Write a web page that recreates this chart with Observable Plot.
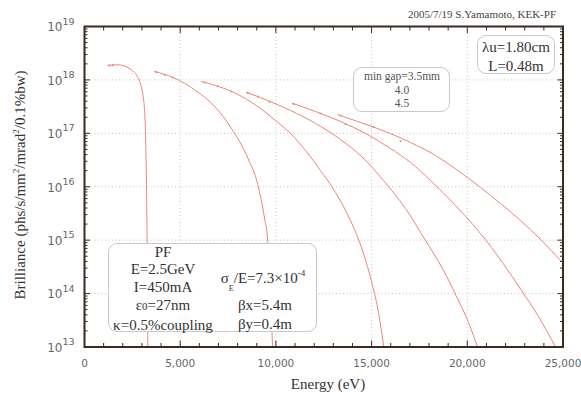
<!DOCTYPE html>
<html><head><meta charset="utf-8">
<script src="https://cdn.jsdelivr.net/npm/d3@7"></script>
<script src="https://cdn.jsdelivr.net/npm/@observablehq/plot@0.6"></script>
<style>
body{margin:0;background:#fff;}
#wrap{position:relative;width:581px;height:398px;font-family:"Liberation Serif","Times New Roman",serif;color:#333;overflow:hidden;}
.box{position:absolute;border:1px solid #c9c9c9;border-radius:9px;background:#fff;box-sizing:border-box;}
.t{position:absolute;transform:translate(-50%,-50%);white-space:nowrap;line-height:1;}
</style></head><body><div id="wrap"></div>
<script>
// Harmonic tuning curves (energy in eV, brilliance)
const harmonics = ["1st","3rd","5th","7th","9th","11th"];
const h1Energy = [1217,1740,2440,2873,3098,3187,3239,3276,3307];
const h1Brill  = [1.87e18,1.92e18,1.55e18,9.4e17,3.96e17,9.6e16,1.1e16,6.2e14,1e13];
const h3Energy = [3657,4702,5747,6792,7665,8532,9054,9404,9577,9718,9822];
const h3Brill  = [1.44e18,1.08e18,6.56e17,3.2e17,1.26e17,3.45e16,1.1e16,2.6e15,9.6e14,1.1e14,1e13];
const h5Energy = [6097,6844,7628,8412,9195,9979,10763,11546,12330,13114,13898,14525,15047,15361,15637];
const h5Brill  = [9.33e17,7.87e17,6.21e17,4.49e17,2.92e17,1.74e17,9.93e16,4.78e16,2.01e16,7.82e15,2.33e15,6.41e14,1.42e14,4.43e13,1e13];
const h7Energy = [8448,9561,10763,12069,13375,14525,15622,16771,17816,18704,19488,20063,20533];
const h7Brill  = [5.89e17,4.12e17,2.68e17,1.53e17,7.67e16,3.53e16,1.31e16,3.92e15,9.86e14,2.95e14,8.09e13,2.88e13,1e13];
const h9Energy = [10852,12069,13375,14681,15987,17032,18077,19384,20690,21839,22832,23720,24608];
const h9Brill  = [3.66e17,2.56e17,1.67e17,9.93e16,5.20e16,2.85e16,1.31e16,4.46e15,1.33e15,3.82e14,1.14e14,3.72e13,1e13];
const h11Energy = [13234,14420,15726,17032,18339,19645,20690,21735,22780,23824,24974];
const h11Brill  = [2.22e17,1.60e17,1.08e17,6.75e16,3.85e16,1.85e16,9.69e15,4.86e15,2.33e15,1.03e15,3.82e14];

// gap markers (min gap 3.5 / 4.0 / 4.5 mm)
const markEnergy = [1306,1479, 3746,4180,4613, 6270,6964,7665, 8532,9054,9666, 10935,12330,13636, 13375,15115,16510];
const markBrill  = [1.87e18,1.89e18, 1.40e18,1.25e18,1.11e18, 8.9e17,7.6e17,6.1e17, 5.7e17,4.9e17,3.9e17, 3.55e17,2.35e17,1.5e17, 2.15e17,1.3e17,7.2e16];

// ticks
const xTicks = [0,5000,10000,15000,20000,25000];
const xTickLabels = ["0","5,000","10,000","15,000","20,000","25,000"];
const yTicks = [1e13,1e14,1e15,1e16,1e17,1e18,1e19];
const yExponents = ["13","14","15","16","17","18","19"];

const energies = [h1Energy,h3Energy,h5Energy,h7Energy,h9Energy,h11Energy];
const brills = [h1Brill,h3Brill,h5Brill,h7Brill,h9Brill,h11Brill];
const curves = harmonics.flatMap((h,k) => energies[k].map((e,i) => ({harmonic:h, energy:e, brilliance:brills[k][i]})));
const marks = markEnergy.map((e,i) => ({energy:e, brilliance:markBrill[i]}));

const xMinor = d3.range(0,25001,1000).filter(v => v % 5000 !== 0);
const yMinor = [];
for (let p = 13; p < 19; p++) for (let m = 2; m <= 9; m++) yMinor.push(m * 10 ** p);

const lineColor = "#ec8578";
const frameColor = "#3a2a22";
const gridStyle = {stroke:"#c4c4c4", strokeOpacity:1, strokeDasharray:"1,2.5", strokeWidth:1};
const none = () => "";

const chart = Plot.plot({
  width: 581, height: 398,
  marginLeft: 84, marginTop: 26, marginRight: 18.5, marginBottom: 51.5,
  x: {domain:[0,25000]},
  y: {type:"log", domain:[1e13,1e19]},
  style: {background:"transparent"},
  marks: [
    Plot.gridX(xTicks.slice(1,-1), gridStyle),
    Plot.gridY(yTicks.slice(1,-1), gridStyle),
    Plot.line(curves, {x:"energy", y:"brilliance", z:"harmonic", stroke:lineColor, strokeWidth:1, curve:"monotone-x", clip:true}),
    Plot.dot(marks, {x:"energy", y:"brilliance", r:1, fill:lineColor}),
    // inward ticks
    Plot.axisX(xTicks, {anchor:"bottom", tickSize:6, dy:-6, tickFormat:none, label:null, stroke:frameColor}),
    Plot.axisX(xMinor, {anchor:"bottom", tickSize:3.5, dy:-3.5, tickFormat:none, label:null, stroke:frameColor}),
    Plot.axisX(xTicks, {anchor:"top", tickSize:6, dy:6, tickFormat:none, label:null, stroke:frameColor}),
    Plot.axisX(xMinor, {anchor:"top", tickSize:3.5, dy:3.5, tickFormat:none, label:null, stroke:frameColor}),
    Plot.axisY(yTicks, {anchor:"left", tickSize:6, dx:6, tickFormat:none, label:null, stroke:frameColor}),
    Plot.axisY(yMinor, {anchor:"left", tickSize:3.5, dx:3.5, tickFormat:none, label:null, stroke:frameColor}),
    Plot.axisY(yTicks, {anchor:"right", tickSize:6, dx:-6, tickFormat:none, label:null, stroke:frameColor}),
    Plot.axisY(yMinor, {anchor:"right", tickSize:3.5, dx:-3.5, tickFormat:none, label:null, stroke:frameColor}),
    Plot.frame({stroke:frameColor, strokeWidth:2}),
    // tick labels
    Plot.text(xTicks, {x:d=>d, frameAnchor:"bottom", dy:17, text:(d,i)=>xTickLabels[i], fontSize:10.5, fill:"#666", fontFamily:"DejaVu Sans", lineAnchor:"middle"}),
    Plot.text(yTicks, {y:d=>d, frameAnchor:"left", dx:-22, dy:1, text:()=>"10", textAnchor:"end", fontSize:12, fill:"#666", fontFamily:"DejaVu Sans", lineAnchor:"middle"}),
    Plot.text(yTicks, {y:d=>d, frameAnchor:"left", dx:-22, dy:-5, text:(d,i)=>yExponents[i], textAnchor:"start", fontSize:9.5, fill:"#666", fontFamily:"DejaVu Sans", lineAnchor:"middle"})
  ]
});

const wrap = document.getElementById("wrap");
wrap.appendChild(chart);

const overlay = `
<div class="t" style="left:20px;top:185px;font-size:15px;transform:translate(-50%,-50%) rotate(-90deg);">Brilliance (phs/s/mm<span style="font-size:9px;position:relative;top:-6px">2</span>/mrad<span style="font-size:9px;position:relative;top:-6px">2</span>/0.1%bw)</div>
<div class="t" style="left:328px;top:384px;font-size:15px;">Energy (eV)</div>
<div class="t" style="left:auto;right:25px;top:9px;transform:none;font-size:11px;color:#444;">2005/7/19 S.Yamamoto, KEK-PF</div>

<div class="box" style="left:477px;top:35px;width:78px;height:39px;"></div>
<div class="t" style="left:516px;top:47px;font-size:15px;">λu=1.80cm</div>
<div class="t" style="left:516px;top:66px;font-size:15px;">L=0.48m</div>

<div class="box" style="left:353px;top:67px;width:97px;height:45px;"></div>
<div class="t" style="left:402px;top:77px;font-size:11.5px;color:#555;">min gap=3.5mm</div>
<div class="t" style="left:402px;top:91px;font-size:11.5px;color:#555;">4.0</div>
<div class="t" style="left:402px;top:103.5px;font-size:11.5px;color:#555;">4.5</div>

<div class="box" style="left:108px;top:243px;width:209px;height:89px;"></div>
<div class="t" style="left:163px;top:252px;font-size:15px;">PF</div>
<div class="t" style="left:163px;top:269px;font-size:15px;">E=2.5GeV</div>
<div class="t" style="left:163px;top:287px;font-size:15px;">I=450mA</div>
<div class="t" style="left:163px;top:305px;font-size:15px;">ε<span style="font-size:11px">0</span>=27nm</div>
<div class="t" style="left:163px;top:325px;font-size:15px;">κ=0.5%coupling</div>
<div class="t" style="left:263px;top:278px;font-size:15px;">σ<span style="font-size:8px;position:relative;top:8px">E</span>/E=7.3×10<span style="font-size:9px;position:relative;top:-7px">-4</span></div>
<div class="t" style="left:265px;top:305px;font-size:15px;">βx=5.4m</div>
<div class="t" style="left:265px;top:323.5px;font-size:15px;">βy=0.4m</div>
`;
const ov = document.createElement("div");
ov.innerHTML = overlay;
while (ov.firstElementChild) wrap.appendChild(ov.firstElementChild);
const svg = wrap.querySelector("svg");
svg.style.position = "absolute"; svg.style.left = "0"; svg.style.top = "0";
</script>
</body></html>
